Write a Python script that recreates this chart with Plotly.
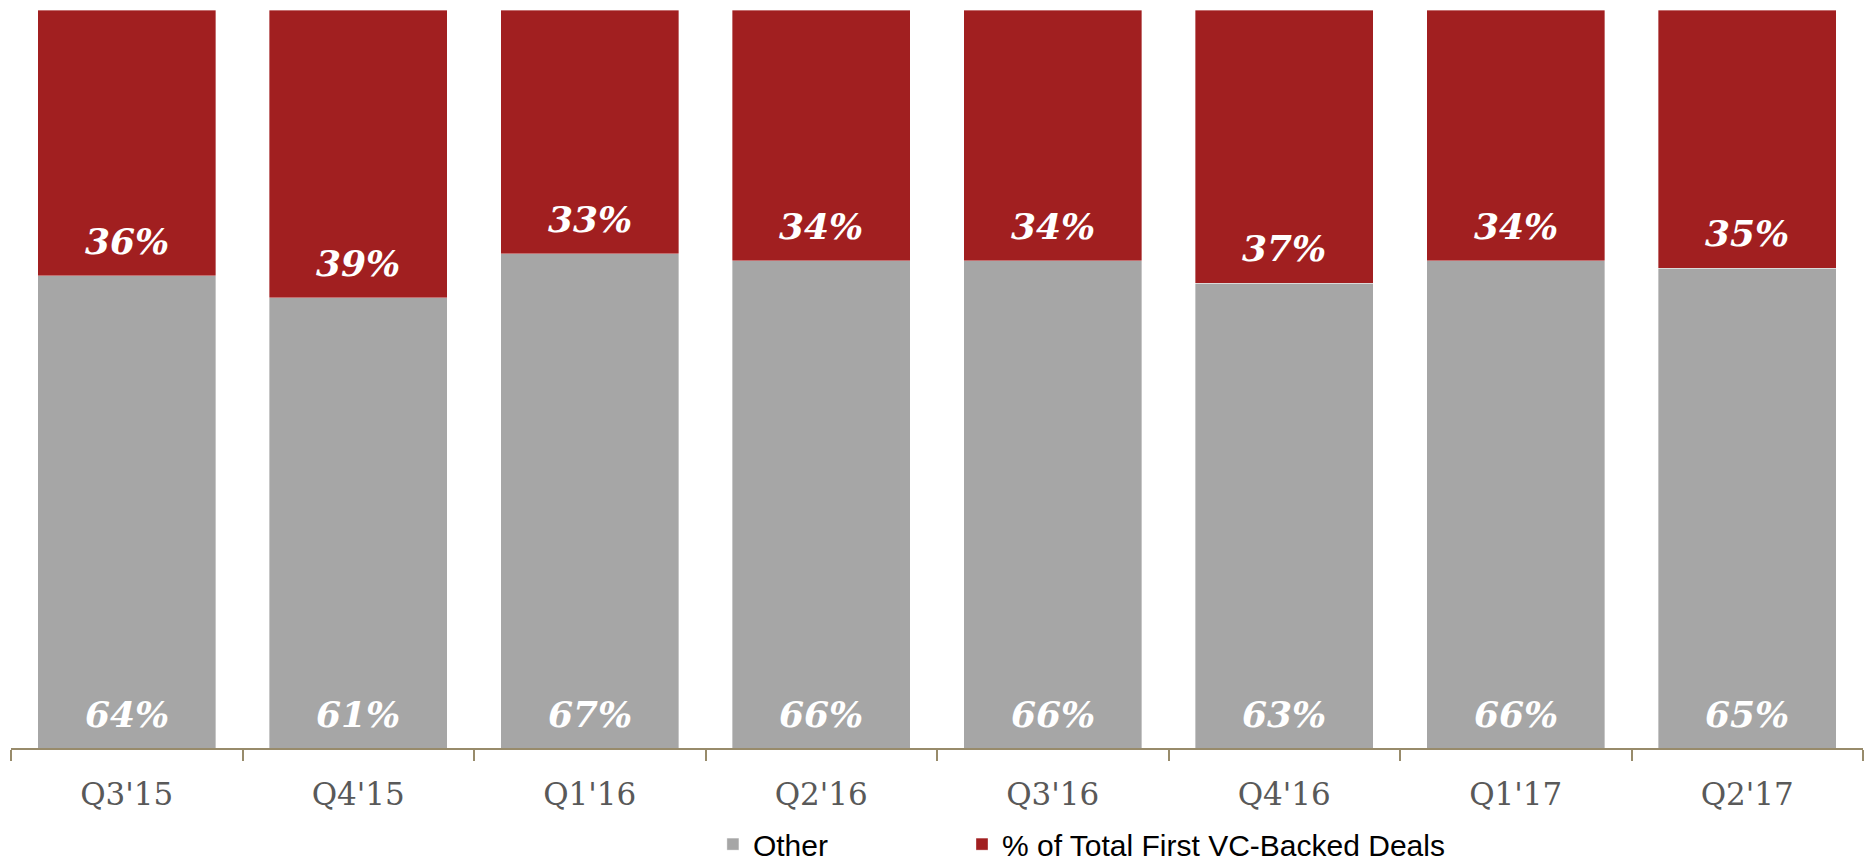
import plotly.graph_objects as go

quarters = ["Q3'15", "Q4'15", "Q1'16", "Q2'16", "Q3'16", "Q4'16", "Q1'17", "Q2'17"]
other = [64, 61, 67, 66, 66, 63, 66, 65]
first_vc = [36, 39, 33, 34, 34, 37, 34, 35]

GRAY = "#A6A6A6"
RED = "#A11F20"
AXIS = "#988B6B"

fig = go.Figure()
fig.add_trace(go.Bar(
    x=quarters, y=other, name="Other", legend="legend",
    marker=dict(color=GRAY, line=dict(width=0.8, color="rgba(255,255,255,0.45)")),
    hoverinfo="skip",
))
fig.add_trace(go.Bar(
    x=quarters, y=first_vc, name="% of Total First VC-Backed Deals", legend="legend2",
    marker=dict(color=RED, line=dict(width=0.8, color="rgba(255,255,255,0.45)")),
    hoverinfo="skip",
))

label_font = dict(family="DejaVu Serif", size=36, color="white", weight="bold", style="italic")
annotations = []
for q, o, r in zip(quarters, other, first_vc):
    annotations.append(dict(x=q, y=0, xref="x", yref="y", text=f"{o}%", showarrow=False,
                            yanchor="middle", yshift=34, font=label_font))
    annotations.append(dict(x=q, y=o, xref="x", yref="y", text=f"{r}%", showarrow=False,
                            yanchor="middle", yshift=35, font=label_font))

legend_common = dict(
    orientation="h", y=-0.095, yanchor="top", xanchor="left",
    font=dict(family="Liberation Sans, Arial", size=30, color="black"),
    itemclick=False, itemdoubleclick=False, bgcolor="rgba(0,0,0,0)",
    tracegroupgap=0,
)

fig.update_layout(
    barmode="stack",
    bargap=0.231,
    width=1868, height=862,
    margin=dict(l=11, r=5, t=10, b=114, pad=0, autoexpand=False),
    paper_bgcolor="white", plot_bgcolor="white",
    annotations=annotations,
    showlegend=True,
    legend=dict(x=0.379, **legend_common),
    legend2=dict(x=0.5135, **legend_common),
    xaxis=dict(
        showline=True, linecolor=AXIS, linewidth=2,
        ticks="outside", tickson="boundaries", ticklen=11, tickwidth=2, tickcolor=AXIS,
        tickfont=dict(family="DejaVu Serif", size=31, color="#595959"),
        ticklabelstandoff=18, automargin=False,
        showgrid=False, zeroline=False,
    ),
    yaxis=dict(range=[0, 100], visible=False, showgrid=False, zeroline=False),
)

fig.write_html("out.html")
